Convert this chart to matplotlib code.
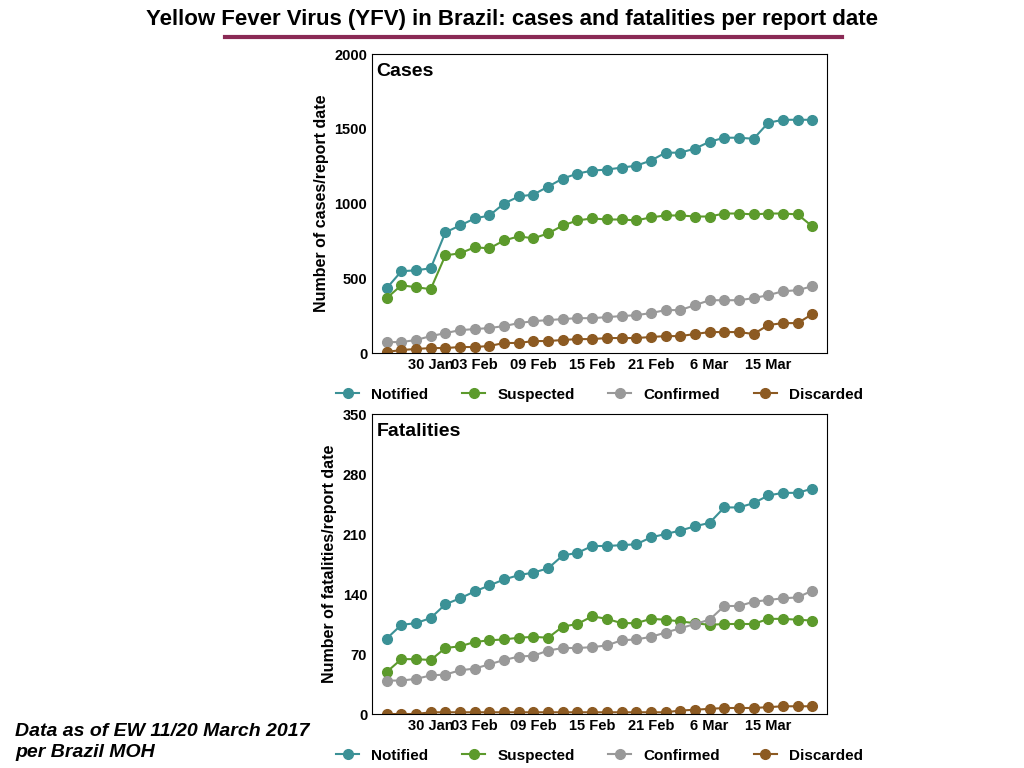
import matplotlib
matplotlib.use("Agg")
import matplotlib.pyplot as plt
import numpy as np

tick_pos = [3, 6, 10, 14, 18, 22, 26]
tick_labels = ["30 Jan", "03 Feb", "09 Feb", "15 Feb", "21 Feb", "6 Mar", "15 Mar"]

cases_notified = [433, 547, 553, 567, 807, 853, 900, 920, 1000, 1047, 1060, 1113, 1167, 1200, 1220,
                  1227, 1240, 1253, 1287, 1340, 1340, 1367, 1413, 1440, 1440, 1433, 1540, 1560, 1560, 1560]
cases_suspected = [367, 453, 440, 427, 653, 667, 707, 700, 753, 780, 767, 800, 853, 887, 900,
                   893, 893, 887, 907, 920, 920, 913, 913, 933, 933, 927, 933, 933, 927, 847]
cases_confirmed = [73, 73, 87, 113, 133, 153, 160, 167, 180, 200, 213, 220, 227, 233, 233,
                   240, 247, 253, 267, 287, 287, 320, 353, 353, 353, 367, 387, 413, 420, 447]
cases_discarded = [7, 20, 27, 33, 33, 40, 40, 47, 67, 67, 80, 80, 87, 93, 93,
                   100, 100, 100, 107, 113, 113, 127, 140, 140, 140, 127, 187, 200, 200, 260]

fat_notified = [88, 104, 106, 112, 128, 135, 143, 150, 157, 162, 165, 170, 185, 188, 196,
                196, 197, 198, 206, 210, 214, 219, 223, 241, 241, 246, 255, 258, 258, 263]
fat_suspected = [49, 64, 64, 63, 77, 79, 84, 86, 87, 89, 90, 89, 102, 105, 114,
                 111, 106, 106, 111, 110, 108, 106, 104, 105, 105, 105, 111, 111, 110, 109]
fat_confirmed = [39, 39, 41, 45, 46, 51, 53, 58, 63, 67, 68, 74, 77, 77, 78,
                 80, 86, 87, 90, 95, 100, 105, 110, 126, 126, 131, 133, 135, 136, 144]
fat_discarded = [0, 0, 0, 2, 2, 2, 2, 2, 2, 2, 2, 2, 2, 2, 2,
                 2, 2, 2, 2, 2, 4, 5, 6, 7, 7, 7, 8, 9, 9, 9]

names = ["Notified", "Suspected", "Confirmed", "Discarded"]
colors = ["#3b9196", "#5c9a2c", "#999999", "#8c5a22"]

plt.rcParams["font.family"] = ["Liberation Sans", "DejaVu Sans"]
plt.rcParams["font.weight"] = "bold"

fig = plt.figure(figsize=(10.24, 7.68), dpi=100)
W, H = 1024, 768


def panel(top, bottom, series, ymax, yticks, label, title):
    ax = fig.add_axes([372 / W, 1 - bottom / H, 455 / W, (bottom - top) / H])
    x = np.arange(len(series[0]))
    for s, n, c in zip(series, names, colors):
        ax.plot(x, s, "-o", color=c, lw=1.5, ms=7, label=n)
    ax.set_xlim(-1, len(x))
    ax.set_ylim(0, ymax)
    ax.set_yticks(yticks)
    ax.set_xticks(tick_pos)
    ax.set_xticklabels(tick_labels)
    ax.tick_params(length=0, labelsize=10.5)
    for lab in ax.get_xticklabels() + ax.get_yticklabels():
        lab.set_fontweight("bold")
    ax.set_ylabel(label, fontsize=11.5, fontweight="bold")
    ax.text(0.01, 0.97, title, transform=ax.transAxes, fontsize=14,
            fontweight="bold", va="top")
    ax.legend(loc="upper center", bbox_to_anchor=(0.5, -0.07), ncol=4,
              frameon=False, prop={"weight": "bold", "size": 11},
              handlelength=1.5, columnspacing=2.2)
    return ax


panel(54, 353, [cases_notified, cases_suspected, cases_confirmed, cases_discarded],
      2000, [0, 500, 1000, 1500, 2000], "Number of cases/report date", "Cases")
panel(414, 714, [fat_notified, fat_suspected, fat_confirmed, fat_discarded],
      350, [0, 70, 140, 210, 280, 350], "Number of fatalities/report date", "Fatalities")

fig.text(0.5, 1 - 20 / H, "Yellow Fever Virus (YFV) in Brazil: cases and fatalities per report date",
         ha="center", va="center", fontsize=16, fontweight="bold")
fig.add_artist(plt.Line2D([225 / W, 842 / W], [1 - 37 / H, 1 - 37 / H], color="#8a2a55", lw=3))
fig.text(15 / W, 1 - 742 / H, "Data as of EW 11/20 March 2017\nper Brazil MOH",
         fontsize=14, fontweight="bold", style="italic", va="center", linespacing=1.3)

fig.savefig("out.png", dpi=100)
